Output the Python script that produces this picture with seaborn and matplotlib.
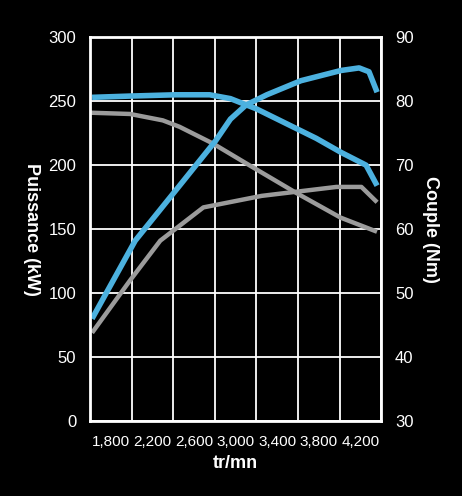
import matplotlib
matplotlib.use("Agg")
import matplotlib.pyplot as plt
import seaborn as sns
import pandas as pd

power_rpm = [1619, 2034, 2421, 2807, 2950, 3100, 3300, 3628, 4014, 4188, 4283, 4361]
power_kw = [80, 141, 180, 219, 236, 247, 255, 266, 274, 276, 273, 257]
torque_rpm = [1619, 1985, 2421, 2750, 2950, 3200, 3400, 3775, 4014, 4255, 4361]
torque_v = [253, 254, 255, 255, 252, 244, 236, 221, 210, 200, 184]
gray1_rpm = [1600, 1985, 2300, 2460, 2780, 3110, 3590, 4010, 4360]
gray1_v = [241, 240, 235, 230, 217, 201, 178, 159, 148]
gray2_rpm = [1619, 1985, 2275, 2690, 3250, 3970, 4210, 4361]
gray2_v = [69, 110, 141, 167, 176, 183, 183, 171]
x_ticks = [1800, 2200, 2600, 3000, 3400, 3800, 4200]
x_labels = ["1,800", "2,200", "2,600", "3,000", "3,400", "3,800", "4,200"]
left_ticks = [0, 50, 100, 150, 200, 250, 300]
right_ticks = [30, 40, 50, 60, 70, 80, 90]

sns.set_style("dark")
plt.rcParams['font.family'] = ['Liberation Sans Narrow', 'Liberation Sans', 'DejaVu Sans']
fig = plt.figure(figsize=(4.62, 4.96), dpi=100, facecolor="black")
ax = fig.add_axes([0.195, 0.151, 0.63, 0.774])
ax.set_facecolor("black")
blue = "#4cb1df"
gray = "#9b9b9b"
for xs, ys, c, lw in [(gray1_rpm, gray1_v, gray, 3.2), (gray2_rpm, gray2_v, gray, 3.2),
                      (power_rpm, power_kw, blue, 4), (torque_rpm, torque_v, blue, 4)]:
    sns.lineplot(data=pd.DataFrame({"x": xs, "y": ys}), x="x", y="y", ax=ax,
                 color=c, lw=lw, solid_capstyle="butt")
ax.set_xlim(1600, 4400)
ax.set_ylim(0, 300)
ax.set_xticks(range(1600, 4401, 400))
ax.set_xticklabels([])
ax.set_xticks(x_ticks, minor=True)
ax.set_xticklabels(x_labels, minor=True)
ax.set_yticks(left_ticks)
ax.grid(True, which="major", color="white", lw=1.3)
ax.tick_params(which="both", length=0, colors="white", labelsize=12)
ax.tick_params(axis="x", which="minor", pad=10, labelsize=11)
ax.tick_params(axis="y", pad=10)
for s in ax.spines.values():
    s.set_color("white"); s.set_linewidth(2); s.set_visible(True)
ax.set_xlabel("tr/mn", color="white", fontsize=13, fontweight="bold", family=['Liberation Sans', 'DejaVu Sans'])
ax.set_ylabel("Puissance (kW)", color="white", fontsize=13, fontweight="bold",
              rotation=270, labelpad=18, family=['Liberation Sans', 'DejaVu Sans'])
ax2 = ax.twinx()
ax2.set_ylim(30, 90)
ax2.set_yticks(right_ticks)
ax2.tick_params(length=0, colors="white", labelsize=12, pad=10)
ax2.grid(False)
for s in ax2.spines.values():
    s.set_visible(False)
ax2.set_ylabel("Couple (Nm)", color="white", fontsize=13, fontweight="bold",
               rotation=270, labelpad=18, family=['Liberation Sans', 'DejaVu Sans'])
fig.savefig("out.png", facecolor="black")
